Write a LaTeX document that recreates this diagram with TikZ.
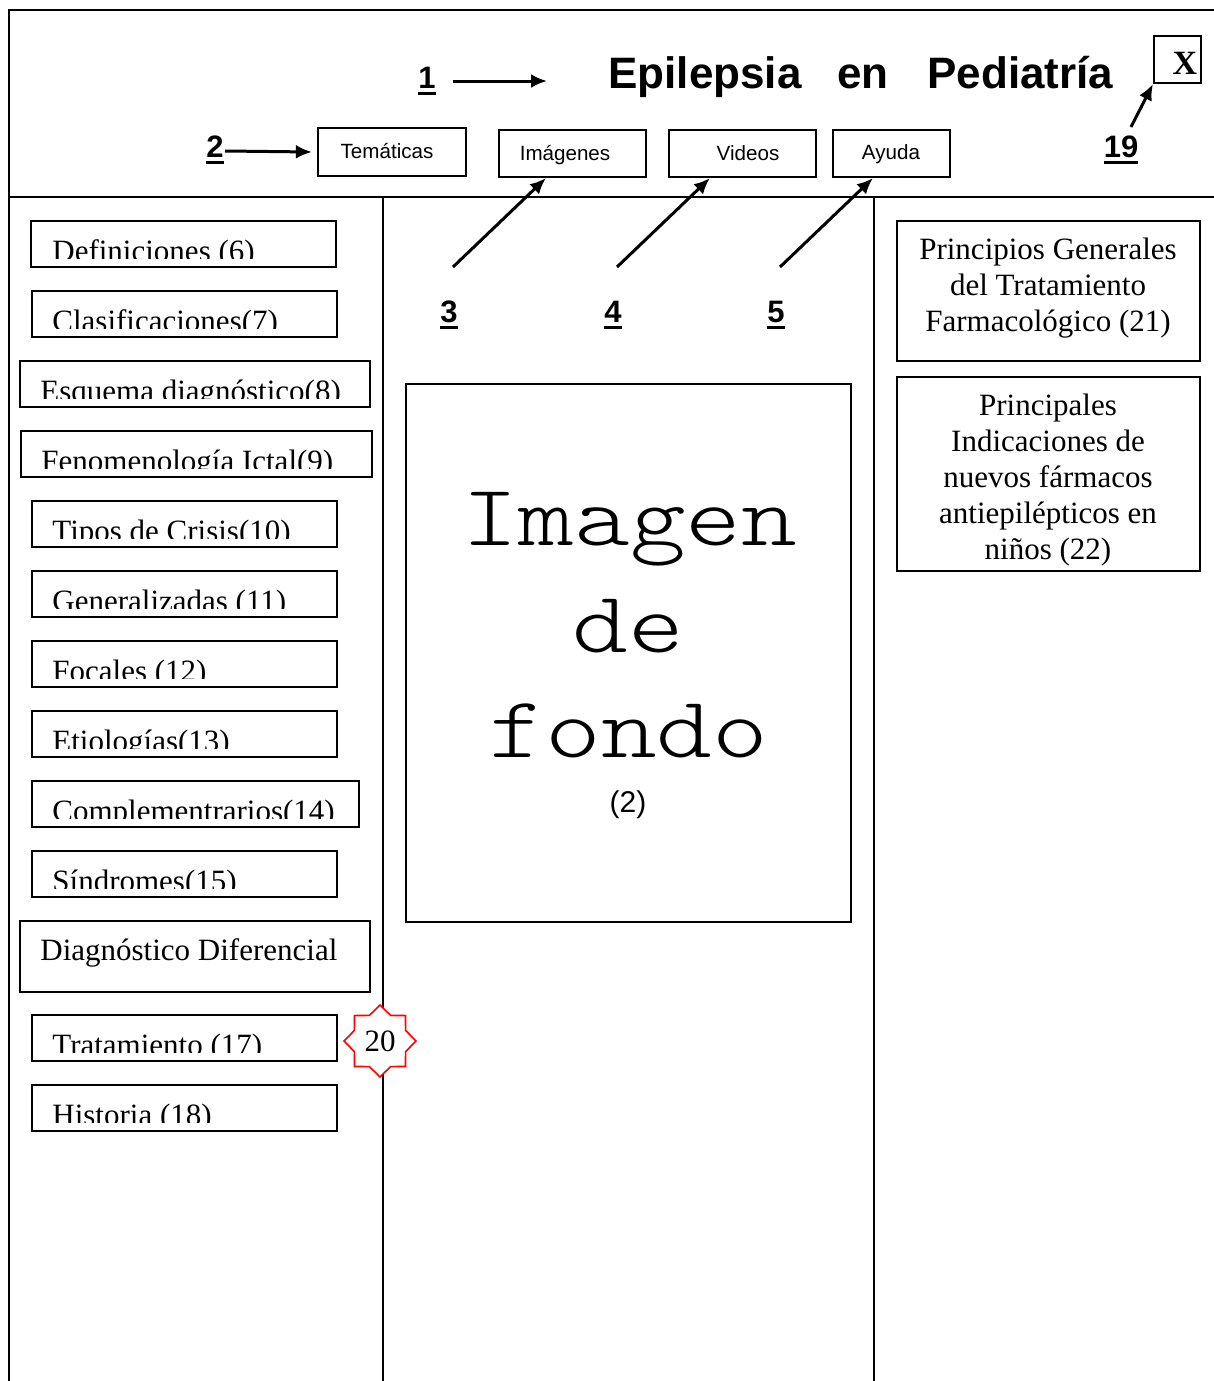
\documentclass[tikz,border=0pt]{standalone}
\usepackage{fontspec}
\usepackage{graphicx}
\setmainfont{Liberation Serif}
\newfontfamily\sansf{Liberation Sans}
\newfontfamily\lightmono{Latin Modern Mono Light}
\usetikzlibrary{arrows.meta,shapes.geometric,fit}

% underlined bold callout number
\newcommand\ulnum[1]{\setbox0\hbox{#1}\rlap{\rule[-3.5pt]{\wd0}{1.6pt}}\box0}

% wide typewriter lettering of the placeholder
\newcommand\widetype[1]{\scalebox{1.22}[1]{\lightmono\fontsize{43.5pt}{53pt}\selectfont #1}}

% menu button of the left column: box, then label clipped at the box's text area
\newcommand\menubtn[7]{%
  \node[mbox, fit={(#2,#3)(#4,#5)}] (#1) {};
  \begin{scope}
    \clip (#2,#3) rectangle (#4,#3+37);
    \node[mtext, anchor=base west] at (#6,#3+40) {#7};
  \end{scope}}

\tikzset{
  frame/.style={line width=0.8pt},
  mbox/.style={draw, line width=0.9pt, inner sep=0pt},
  hbtn/.style={draw, line width=1.1pt, inner sep=0pt},
  mtext/.style={inner sep=0pt, font=\fontsize{15.5pt}{18pt}\selectfont},
  htext/.style={inner sep=0pt, anchor=base, font=\sansf\fontsize{10.3pt}{12pt}\selectfont},
  ttext/.style={inner sep=0pt, font=\sansf\bfseries\fontsize{22pt}{26pt}\selectfont},
  num/.style={inner sep=0pt, font=\sansf\bfseries\fontsize{15.5pt}{18pt}\selectfont},
  arr/.style={line width=1.5pt, -{Latex[length=8pt,width=7pt]}},
  rtext/.style={inner sep=0pt, align=center, font=\fontsize{15.5pt}{18pt}\selectfont},
}

\begin{document}
\begin{tikzpicture}[x=0.5pt,y=-0.5pt]
\useasboundingbox (0,0) rectangle (1214,1381);
\fill[white] (0,0) rectangle (1214,1381);

% window frame, header divider and columns
\draw[frame] (9,1381) -- (9,10) -- (1214,10);
\draw[frame] (9,197) -- (1214,197);
\draw[frame] (383,197) -- (383,1381);
\draw[frame] (874,197) -- (874,1381);

% title
\node[ttext, anchor=base west] (t1) at (608,88) {Epilepsia};
\node[ttext, anchor=base west] (t2) at (837,88) {en};
\node[ttext, anchor=base west] (t3) at (927,88) {Pediatría};

% close box
\node[hbtn, fit={(1154,36)(1201,83)}] (close) {};
\node[inner sep=0pt, font=\bfseries\fontsize{17pt}{18pt}\selectfont] (closex) at (1185,63) {X};

% header buttons
\node[hbtn, fit={(318,128)(466,176)}] (tem) {};
\node[hbtn, fit={(499,130)(646,177)}] (img) {};
\node[hbtn, fit={(669,130)(816,177)}] (vid) {};
\node[hbtn, fit={(833,130)(950,177)}] (ayu) {};
\node[htext] (temt) at (387,158) {Temáticas};
\node[htext] (imgt) at (565,160) {Imágenes};
\node[htext] (vidt) at (748,160) {Videos};
\node[htext] (ayut) at (891,159) {Ayuda};

% callout numbers
\node[num, anchor=base] (n1) at (427,88) {\ulnum{1}};
\node[num, anchor=base] (n2) at (215,157) {\ulnum{2}};
\node[num, anchor=base] (n3) at (449,322) {\ulnum{3}};
\node[num, anchor=base] (n4) at (613,322) {\ulnum{4}};
\node[num, anchor=base] (n5) at (776,322) {\ulnum{5}};
\node[num, anchor=base] (n19) at (1121,157) {\ulnum{19}};

% callout arrows
\coordinate (a1s) at (453,81);
\coordinate (a1e) at (547,81);
\coordinate (a2s) at (225,151);
\coordinate (a3s) at (453,267);
\coordinate (a4s) at (617,267);
\coordinate (a5s) at (780,267);
\coordinate (a19s) at (1131,127);
\draw[arr] (a1s) -- (a1e);
\draw[arr] (a2s) -- ([xshift=-2.5pt]tem.west);
\draw[arr] (a3s) -- ([xshift=24pt]img.south west);
\draw[arr] (a4s) -- ([xshift=21pt]vid.south west);
\draw[arr] (a5s) -- ([xshift=20.5pt]ayu.south west);
\draw[arr] (a19s) -- (close.south west);

% left menu
\menubtn{m6}{31}{221}{336}{267}{52}{Definiciones (6)}
\menubtn{m7}{32}{291}{337}{337}{52}{Clasificaciones(7)}
\menubtn{m8}{20}{361}{370}{407}{40}{Esquema diagnóstico(8)}
\menubtn{m9}{21}{431}{372}{477}{41}{Fenomenología Ictal(9)}
\menubtn{m10}{32}{501}{337}{547}{52}{Tipos de Crisis(10)}
\menubtn{m11}{32}{571}{337}{617}{52}{Generalizadas (11)}
\menubtn{m12}{32}{641}{337}{687}{52}{Focales (12)}
\menubtn{m13}{32}{711}{337}{757}{52}{Etiologías(13)}
\menubtn{m14}{32}{781}{359}{827}{52}{Complementrarios(14)}
\menubtn{m15}{32}{851}{337}{897}{52}{Síndromes(15)}
\node[mbox, fit={(20,921)(370,992)}] (m16) {};
\node[mtext, anchor=base west] (m16t) at (40,960) {Diagnóstico Diferencial};
\menubtn{m17}{32}{1015}{337}{1061}{52}{Tratamiento (17)}
\menubtn{m18}{32}{1085}{337}{1131}{52}{Historia (18)}

% badge on the column divider
\node[star, star points=8, star point ratio=1.3, minimum size=36pt,
      draw=red, line width=0.8pt, fill=white, inner sep=0pt,
      font=\fontsize{15.5pt}{18pt}\selectfont] (s20) at (380,1041) {20};

% background image placeholder
\node[mbox, line width=0.8pt, fit={(406,384)(851,922)}] (bg) {};
\node[inner sep=0pt, anchor=base] (bg1) at (630,545) {\widetype{Imagen}};
\node[inner sep=0pt, anchor=base] (bg2) at (628,652) {\widetype{de}};
\node[inner sep=0pt, anchor=base] (bg3) at (629,757) {\widetype{fondo}};
\node[inner sep=0pt, font=\sansf\fontsize{15pt}{18pt}\selectfont] (bg4) at (628,805) {(2)};

% right column
\node[mbox, fit={(897,221)(1200,361)}] (r21) {};
\node[rtext] (r21t) at (1048,288) {Principios Generales\\del Tratamiento\\Farmacológico (21)};
\node[mbox, fit={(897,377)(1200,571)}] (r22) {};
\node[rtext] (r22t) at (1048,480) {Principales\\Indicaciones de\\nuevos fármacos\\antiepilépticos en\\niños (22)};
\end{tikzpicture}
\end{document}
